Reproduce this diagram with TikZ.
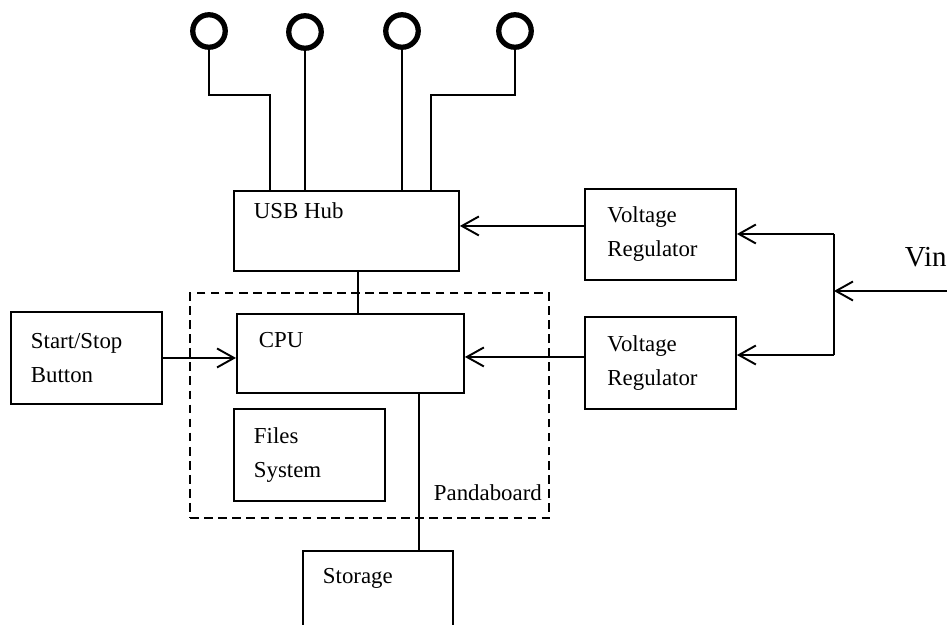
\documentclass[tikz,border=0pt]{standalone}
\usepackage{fontspec}
\setmainfont{Liberation Serif}
\usetikzlibrary{arrows.meta, calc}

\begin{document}
\begin{tikzpicture}[
  x=0.02cm, y=-0.02cm, line width=1.1pt,
  >={Straight Barb[length=3.4mm, width=3.8mm]},
  txt/.style={font=\fontsize{13}{19.3}\selectfont, inner sep=0pt},
  box/.style={draw, line width=1.1pt, anchor=north west, inner ysep=0pt,
              align=left, font=\fontsize{13}{19.3}\selectfont},
  port/.style={circle, draw, line width=3pt, minimum size=0.65cm, inner sep=0pt},
]

% Page
\useasboundingbox (0,0) rectangle (947,625);
\clip (0,0) rectangle (947,625);

% ============ USB ports ============
\node[port] (usb1) at (209,31) {};
\node[port] (usb2) at (305,32) {};
\node[port] (usb3) at (402,31) {};
\node[port] (usb4) at (515,31) {};

% USB hub
\node[box, minimum width=4.5cm, minimum height=1.6cm] (hub) at (233,190) {};
\node[txt, anchor=base west] (hubtxt) at (253,218) {USB Hub};

% Port wiring
\coordinate (bend1) at (270,95);
\coordinate (bend4) at (431,95);
\draw (usb1) |- (bend1) -- (bend1 |- hub.north);
\draw (usb2) -- (usb2 |- hub.north);
\draw (usb3) -- (usb3 |- hub.north);
\draw (usb4) |- (bend4) -- (bend4 |- hub.north);

% ============ Power ============
\node[box, minimum width=3.02cm, minimum height=1.82cm, text width=2.12cm,
      inner xsep=0.45cm] (vrtop) at (584,188) {Voltage\\Regulator};
\node[box, minimum width=3.02cm, minimum height=1.84cm, text width=2.12cm,
      inner xsep=0.45cm] (vrbot) at (584,316) {Voltage\\Regulator};

\coordinate (vin) at (947,291);
\coordinate (split) at (834,291);
\coordinate (bustop) at (834,234);
\coordinate (busbot) at (834,355);
\node[txt, anchor=base west] (vintxt) at (904,266) {\fontsize{16.5}{19}\selectfont Vin};
\draw[->] (vin) -- (split);
\draw (bustop) -- (busbot);
\draw[->] (bustop) -- (bustop -| vrtop.east);
\draw[->] (busbot) -- (busbot -| vrbot.east);

% ============ Pandaboard ============
\node[box, dashed, dash pattern=on 5pt off 3pt, line width=1.4pt,
      minimum width=7.18cm, minimum height=4.5cm] (panda) at (189,292) {};
\node[txt, anchor=base west] (pandatxt) at (433,500) {Pandaboard};

\node[box, minimum width=4.54cm, minimum height=1.58cm] (cpu) at (236,313) {};
\node[txt, anchor=base west] (cputxt) at (258,347) {CPU};

\node[box, minimum width=3.02cm, minimum height=1.84cm, text width=2.22cm,
      inner xsep=0.4cm] (files) at (233,408) {Files\\System};

% Start/Stop button
\node[box, minimum width=3.02cm, minimum height=1.84cm, text width=2.22cm,
      inner xsep=0.4cm] (start) at (10,311) {Start/Stop\\Button};

% Storage (runs off the page)
\node[box, minimum width=3.0cm, minimum height=2.0cm] (storage) at (302,550) {};
\node[txt, anchor=base west] (storagetxt) at (322,583) {Storage};

% ============ Connections ============
\draw[->] ([yshift=0.17cm]vrtop.west) -- ([yshift=0.17cm]vrtop.west -| hub.east);
\draw[->] ([yshift=0.12cm]vrbot.west) -- ([yshift=0.12cm]vrbot.west -| cpu.east);
\draw[->] (start.east) -- (start.east -| cpu.west);
\draw ([xshift=0.23cm]hub.south) -- ([xshift=0.23cm]hub.south |- cpu.north);
\draw ([xshift=1.37cm]cpu.south) -- ([xshift=1.37cm]cpu.south |- storage.north);

\end{tikzpicture}
\end{document}
